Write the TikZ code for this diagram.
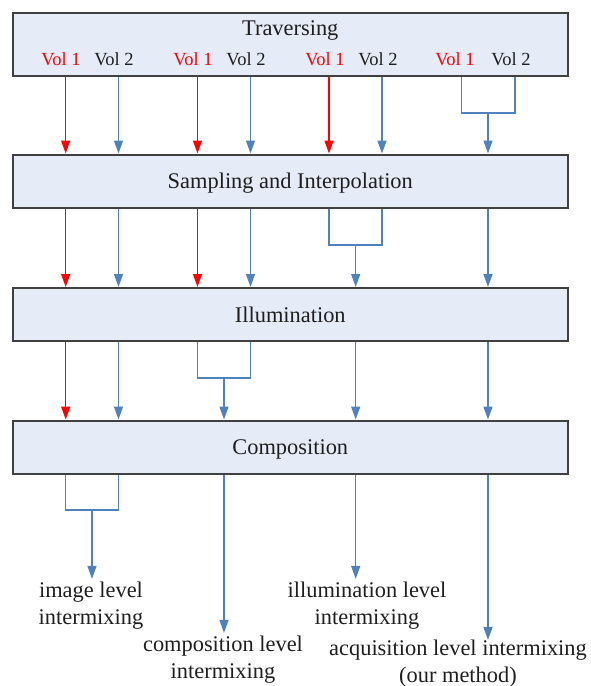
\documentclass[tikz,border=0pt]{standalone}
\usepackage{fontspec}
\setmainfont{Liberation Serif}
\usetikzlibrary{arrows.meta}

\definecolor{stagefill}{RGB}{230,236,247}
\definecolor{stageline}{RGB}{64,64,64}
\definecolor{wireblue}{RGB}{79,129,189}
\definecolor{textgray}{RGB}{30,30,30}

\tikzset{
    stage/.style={draw=stageline, line width=1pt, fill=stagefill,
        minimum width=277.5pt, minimum height=26.5pt, inner sep=0pt,
        text depth=0pt, text=textgray, font=\fontsize{11.2}{13.5}\selectfont},
    vollabel/.style={inner sep=0pt, font=\fontsize{9.25}{11}\selectfont},
    levellabel/.style={align=center, inner sep=1.5pt, text=textgray,
        font=\fontsize{11.2}{13.5}\selectfont},
    redarrow/.style={red, line width=0.65pt, -{Triangle[width=4.5pt,length=6.5pt]}},
    bluearrow/.style={wireblue, line width=0.65pt, -{Triangle[width=4.5pt,length=6.5pt]}},
    bluewire/.style={wireblue, line width=0.65pt}
}

\begin{document}
\begin{tikzpicture}[x=0.5pt, y=-0.5pt]
    \useasboundingbox (0,0) rectangle (590,686);

    % Columns
    \coordinate (c1) at (65.7,0);
    \coordinate (c2) at (118.5,0);
    \coordinate (c3) at (197.5,0);
    \coordinate (c4) at (250.5,0);
    \coordinate (c5) at (329,0);
    \coordinate (c6) at (382,0);
    \coordinate (c7) at (461.7,0);
    \coordinate (c8) at (515,0);

    % Stages
    \node[stage, minimum height=31.7pt] (trav) at (290.3,44.3) {};
    \node[stage] (samp) at (290.3,181) {Sampling and Interpolation};
    \node[stage] (illum) at (290.3,314.5) {Illumination};
    \node[stage] (comp) at (290.3,447) {Composition};

    % Traversing labels
    \node[inner sep=0pt, text=textgray, font=\fontsize{11.2}{13.5}\selectfont]
        (travtext) at (290.3,30) {Traversing};
    \node[vollabel, red] (vola) at (61,59) {Vol 1};
    \node[vollabel, textgray] (volb) at (114,59) {Vol 2};
    \node[vollabel, red] (volc) at (193,59) {Vol 1};
    \node[vollabel, textgray] (vold) at (246,59) {Vol 2};
    \node[vollabel, red] (vole) at (325,59) {Vol 1};
    \node[vollabel, textgray] (volf) at (378,59) {Vol 2};
    \node[vollabel, red] (volg) at (455,59) {Vol 1};
    \node[vollabel, textgray] (volh) at (511,59) {Vol 2};

    % Traversing -> Sampling
    \draw[redarrow] (c1 |- trav.south) -- (c1 |- samp.north);
    \draw[bluearrow] (c2 |- trav.south) -- (c2 |- samp.north);
    \draw[redarrow] (c3 |- trav.south) -- (c3 |- samp.north);
    \draw[bluearrow] (c4 |- trav.south) -- (c4 |- samp.north);
    \draw[redarrow] (c5 |- trav.south) -- (c5 |- samp.north);
    \draw[bluearrow] (c6 |- trav.south) -- (c6 |- samp.north);
    \coordinate (j1) at (488,113);
    \draw[bluewire] (c7 |- trav.south) |- (j1) -| (c8 |- trav.south);
    \draw[bluearrow] (j1) -- (j1 |- samp.north);

    % Sampling -> Illumination
    \draw[redarrow] (c1 |- samp.south) -- (c1 |- illum.north);
    \draw[bluearrow] (c2 |- samp.south) -- (c2 |- illum.north);
    \draw[redarrow] (c3 |- samp.south) -- (c3 |- illum.north);
    \draw[bluearrow] (c4 |- samp.south) -- (c4 |- illum.north);
    \coordinate (j2) at (355.7,245);
    \draw[bluewire] (c5 |- samp.south) |- (j2) -| (c6 |- samp.south);
    \draw[bluearrow] (j2) -- (j2 |- illum.north);
    \draw[bluearrow] (j1 |- samp.south) -- (j1 |- illum.north);

    % Illumination -> Composition
    \draw[redarrow] (c1 |- illum.south) -- (c1 |- comp.north);
    \draw[bluearrow] (c2 |- illum.south) -- (c2 |- comp.north);
    \coordinate (j3) at (224,378);
    \draw[bluewire] (c3 |- illum.south) |- (j3) -| (c4 |- illum.south);
    \draw[bluearrow] (j3) -- (j3 |- comp.north);
    \draw[bluearrow] (j2 |- illum.south) -- (j2 |- comp.north);
    \draw[bluearrow] (j1 |- illum.south) -- (j1 |- comp.north);

    % Outputs
    \node[levellabel] (lblimg) at (91,606) {image level\\intermixing};
    \node[levellabel] (lblcomp) at (223,660) {composition level\\intermixing};
    \node[levellabel] (lblillum) at (367,606) {illumination level\\intermixing};
    \node[levellabel, inner sep=0pt] (lblacq) at (458,664)
        {acquisition level intermixing\\(our method)};

    \coordinate (j4) at (92,510);
    \draw[bluewire] (c1 |- comp.south) |- (j4) -| (c2 |- comp.south);
    \draw[bluearrow] (j4) -- (j4 |- lblimg.north);
    \draw[bluearrow] (j3 |- comp.south) -- (j3 |- lblcomp.north);
    \draw[bluearrow] (j2 |- comp.south) -- (j2 |- lblillum.north);
    \draw[bluearrow] (j1 |- comp.south) -- (j1 |- lblacq.north);
\end{tikzpicture}
\end{document}
